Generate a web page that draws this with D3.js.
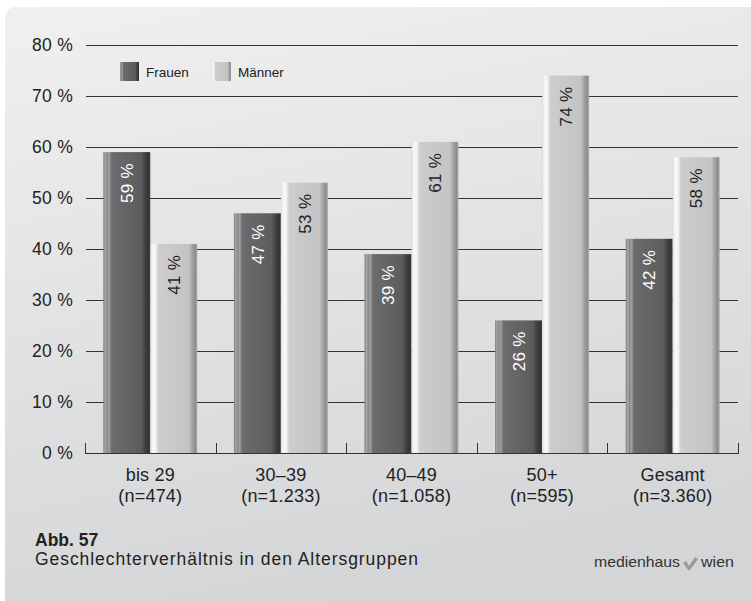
<!DOCTYPE html>
<html><head><meta charset="utf-8">
<script src="https://cdn.jsdelivr.net/npm/d3@7"></script>
<style>html,body{margin:0;padding:0;background:#fff;}svg{display:block;font-family:"Liberation Sans",Arial,sans-serif;}</style>
</head><body>
<script>
const categories = ["bis 29", "30–39", "40–49", "50+", "Gesamt"];
const sampleSizes = ["(n=474)", "(n=1.233)", "(n=1.058)", "(n=595)", "(n=3.360)"];
const series = ["Frauen", "Männer"];
const frauen = [59, 47, 39, 26, 42];
const maenner = [41, 53, 61, 74, 58];
const yTicks = [0, 10, 20, 30, 40, 50, 60, 70, 80];

const W = 751, H = 601;
const svg = d3.select("body").append("svg").attr("width", W).attr("height", H);
const defs = svg.append("defs");

const bg = defs.append("linearGradient").attr("id","bg").attr("x1","0").attr("y1","0").attr("x2","0.25").attr("y2","1");
bg.append("stop").attr("offset","0").attr("stop-color","#f0f0f0");
bg.append("stop").attr("offset","1").attr("stop-color","#d4d5d7");

function barGrad(id, stops){
  const g = defs.append("linearGradient").attr("id",id).attr("x1","0").attr("x2","1").attr("y1","0").attr("y2","0");
  stops.forEach(s=>g.append("stop").attr("offset",s[0]).attr("stop-color",s[1]));
}
barGrad("gF", [[0,"#7a7a7b"],[0.04,"#a8a8a9"],[0.08,"#8a8a8b"],[0.12,"#a0a0a1"],[0.18,"#6c6c6e"],[0.5,"#646466"],[0.8,"#5c5c5e"],[0.9,"#3e3e40"],[0.97,"#333335"],[1,"#4a4a4c"]]);
barGrad("gM", [[0,"#d8d8d8"],[0.04,"#f4f4f4"],[0.1,"#f8f8f8"],[0.18,"#cdcdce"],[0.5,"#c8c8c9"],[0.82,"#c4c4c5"],[0.9,"#a0a0a1"],[0.96,"#8c8c8d"],[1,"#b0b0b1"]]);
const fills = {"Frauen":"url(#gF)", "Männer":"url(#gM)"};

svg.append("rect").attr("x",5).attr("y",7).attr("width",W+20).attr("height",H+20).attr("rx",10).attr("fill","url(#bg)");

const y = d3.scaleLinear().domain([0,80]).range([453,45]);
const x0 = d3.scaleBand().domain(categories).range([85,738]).paddingInner(0).paddingOuter(0);
const x1 = d3.scaleBand().domain(series).range([0, x0.bandwidth()]).paddingInner(0).paddingOuter(0.39);

// gridlines
svg.append("g").selectAll("line").data(yTicks.filter(d=>d>0)).join("line")
  .attr("x1",86).attr("x2",738).attr("y1",d=>y(d)+0.5).attr("y2",d=>y(d)+0.5)
  .attr("stroke","#333").attr("stroke-width",1);

// y labels
svg.append("g").selectAll("text").data(yTicks).join("text")
  .attr("x",73).attr("y",d=>y(d)).attr("dy","0.36em").attr("text-anchor","end")
  .attr("font-size",17.5).attr("letter-spacing",0.3).attr("fill","#222").text(d=>d+" %");

// bars
const data = categories.map((c,i)=>({cat:c, vals:[{s:"Frauen",v:frauen[i]},{s:"Männer",v:maenner[i]}]}));
const groups = svg.append("g").selectAll("g").data(data).join("g")
  .attr("transform",d=>`translate(${x0(d.cat)},0)`);
groups.selectAll("rect").data(d=>d.vals).join("rect")
  .attr("x",d=>x1(d.s)).attr("width",x1.bandwidth())
  .attr("y",d=>y(d.v)).attr("height",d=>y(0)-y(d.v))
  .attr("fill",d=>fills[d.s]);
groups.selectAll("text").data(d=>d.vals).join("text")
  .attr("transform",d=>`translate(${x1(d.s)+x1.bandwidth()/2},${y(d.v)+11}) rotate(-90)`)
  .attr("text-anchor","end").attr("dy","0.36em").attr("font-size",17).attr("letter-spacing",0.3)
  .attr("fill",d=>d.s==="Frauen"?"#ffffff":"#222")
  .text(d=>d.v+" %");

// axis baseline and ticks
svg.append("line").attr("x1",85).attr("x2",738).attr("y1",453.5).attr("y2",453.5).attr("stroke","#333").attr("stroke-width",1);
const boundaries = categories.map(c=>x0(c)).concat([x0.range()[1]]);
svg.append("g").selectAll("line").data(boundaries).join("line")
  .attr("x1",d=>Math.round(d)+0.5).attr("x2",d=>Math.round(d)+0.5).attr("y1",443).attr("y2",454)
  .attr("stroke","#333").attr("stroke-width",1);

// x labels
const xl = svg.append("g").selectAll("text").data(categories).join("text")
  .attr("x",d=>x0(d)+x0.bandwidth()/2).attr("text-anchor","middle").attr("font-size",18).attr("letter-spacing",0.2).attr("fill","#222");
xl.append("tspan").attr("x",d=>x0(d)+x0.bandwidth()/2).attr("y",481).text(d=>d);
xl.append("tspan").attr("x",d=>x0(d)+x0.bandwidth()/2).attr("y",502).text((d,i)=>sampleSizes[i]);

// legend
const legX = [120, 212];
const leg = svg.append("g").selectAll("g").data(series).join("g")
  .attr("transform",(d,i)=>`translate(${legX[i]},62)`);
leg.append("rect").attr("width",19).attr("height",19).attr("fill",d=>fills[d]);
leg.append("text").attr("x",26).attr("y",14.5).attr("font-size",13.5).attr("fill","#222").text(d=>d);

// caption
svg.append("text").attr("x",35).attr("y",545.5).attr("font-size",17.5).attr("font-weight","bold").attr("fill","#222").text("Abb. 57");
svg.append("text").attr("x",35).attr("y",565).attr("font-size",17.5).attr("textLength",383).attr("lengthAdjust","spacing").attr("fill","#222").text("Geschlechterverhältnis in den Altersgruppen");

// logo
const logo = svg.append("g");
logo.append("text").attr("x",594).attr("y",567).attr("font-size",14.5).attr("textLength",86).attr("lengthAdjust","spacingAndGlyphs").attr("fill","#333").text("medienhaus");
logo.append("path").attr("d","M683,563 L689,571 L698,559 L695,557 L689,566 L686,561 Z").attr("fill","#9a9a9a");
logo.append("text").attr("x",701).attr("y",567).attr("font-size",14.5).attr("textLength",33).attr("lengthAdjust","spacingAndGlyphs").attr("fill","#333").text("wien");
</script>
</body></html>
